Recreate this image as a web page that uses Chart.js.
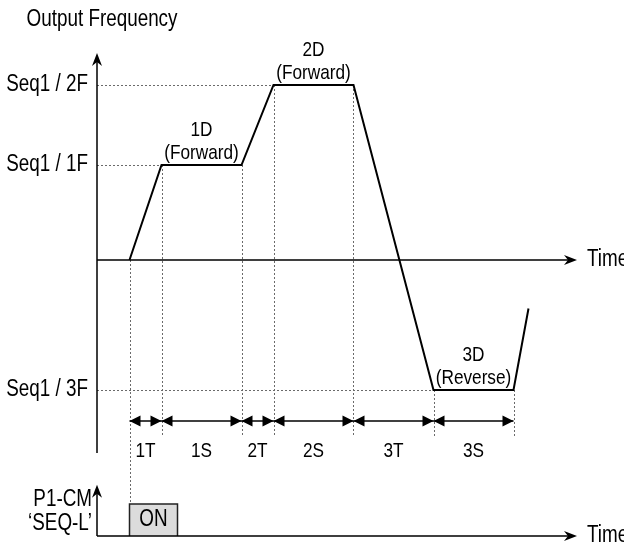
<!DOCTYPE html>
<html>
<head>
<meta charset="utf-8">
<script src="https://cdn.jsdelivr.net/npm/chart.js@4/dist/chart.umd.min.js"></script>
<style>
  html, body { margin: 0; padding: 0; background: #fff; }
  canvas { display: block; }
</style>
</head>
<body>
<canvas id="seqChart" width="624" height="545"></canvas>
<script>
// sequence steps (time in s, frequency in Hz)
const stepNames = ['1T', '1S', '2T', '2S', '3T', '3S'];
const stepTimes = [0, 3.2, 11.2, 14.4, 22.4, 30.4, 38.4];
const profileT = [0, 3.2, 11.2, 14.4, 22.4, 30.4, 38.4, 39.9];
const profileF = [0, 19, 19, 35, 35, -26, -26, -9.7];
const freqTicks = [35, 19, -26];
const freqTickLabels = ['Seq1 / 2F', 'Seq1 / 1F', 'Seq1 / 3F'];
const runLabels = [['1D', '(Forward)'], ['2D', '(Forward)'], ['3D', '(Reverse)']]; // over 1S, 2S, 3S
const pulseT = [0, 0, 4.8, 4.8];
const pulseV = [0, 1, 1, 0];

const DIM_F = -32.2, GUIDE_END_F = -35.4, AXIS_END_F = -38.6;
const FONT = '"Liberation Sans", Arial, sans-serif';

function txt(ctx, s, x, y, size, align) {
  ctx.save();
  ctx.translate(x, y);
  ctx.scale(0.82, 1); // narrow face
  ctx.font = size + 'px ' + FONT;
  ctx.fillStyle = '#000';
  ctx.textAlign = align || 'center';
  ctx.textBaseline = 'middle';
  ctx.fillText(s, 0, 0);
  ctx.restore();
}

function axisHead(ctx, x, y, dir) {
  ctx.beginPath();
  if (dir === 'up') {
    ctx.moveTo(x, y); ctx.lineTo(x - 5, y + 13); ctx.lineTo(x, y + 9); ctx.lineTo(x + 5, y + 13);
  } else {
    ctx.moveTo(x, y); ctx.lineTo(x - 13, y - 5); ctx.lineTo(x - 9, y); ctx.lineTo(x - 13, y + 5);
  }
  ctx.closePath();
  ctx.fill();
}

function dimHead(ctx, x, y, d) {
  ctx.beginPath();
  ctx.moveTo(x, y); ctx.lineTo(x + d * 11, y - 5.5); ctx.lineTo(x + d * 11, y + 5.5);
  ctx.closePath();
  ctx.fill();
}

const sketch = {
  id: 'sketch',
  beforeDatasetsDraw(chart) {
    const { ctx, scales: { x, y, ySig } } = chart;
    ctx.save();
    ctx.strokeStyle = '#6a6a6a';
    ctx.lineWidth = 1;
    ctx.setLineDash([2, 2]);
    ctx.beginPath();
    // horizontal guides from the axis to where the level is reached
    freqTicks.forEach(f => {
      const i = profileF.indexOf(f);
      const py = Math.round(y.getPixelForValue(f)) + 0.5;
      ctx.moveTo(x.left, py);
      ctx.lineTo(x.getPixelForValue(profileT[i]), py);
    });
    // vertical guides at every step boundary
    stepTimes.forEach((t, i) => {
      const px = Math.round(x.getPixelForValue(t)) + 0.5;
      ctx.moveTo(px, y.getPixelForValue(profileF[i]));
      ctx.lineTo(px, i === 0 ? ySig.getPixelForValue(pulseV[1]) : y.getPixelForValue(GUIDE_END_F));
    });
    ctx.stroke();
    ctx.restore();
  },
  afterDatasetsDraw(chart) {
    const { ctx, chartArea: a, scales: { x, y, ySig } } = chart;
    ctx.save();
    ctx.fillStyle = '#000';
    ctx.strokeStyle = '#000';
    ctx.lineWidth = 1.5;

    // frequency axis and time axis
    const x0 = x.getPixelForValue(x.min);
    const y0 = y.getPixelForValue(0);
    ctx.beginPath();
    ctx.moveTo(x0, y.getPixelForValue(AXIS_END_F)); ctx.lineTo(x0, a.top + 6);
    ctx.moveTo(x0, y0); ctx.lineTo(a.right - 6, y0);
    ctx.stroke();
    axisHead(ctx, x0, a.top, 'up');
    axisHead(ctx, a.right, y0, 'right');

    // signal axes
    const s0 = ySig.getPixelForValue(0);
    ctx.beginPath();
    ctx.moveTo(x0, s0); ctx.lineTo(x0, ySig.getPixelForValue(1.6) + 6);
    ctx.moveTo(x0, s0); ctx.lineTo(a.right - 6, s0);
    ctx.stroke();
    axisHead(ctx, x0, ySig.getPixelForValue(1.6), 'up');
    axisHead(ctx, a.right, s0, 'right');

    // dimension row
    const dy = y.getPixelForValue(DIM_F);
    ctx.beginPath();
    ctx.moveTo(x.getPixelForValue(stepTimes[0]), dy);
    ctx.lineTo(x.getPixelForValue(stepTimes[stepTimes.length - 1]), dy);
    ctx.stroke();
    for (let i = 0; i < stepNames.length; i++) {
      const pa = x.getPixelForValue(stepTimes[i]);
      const pb = x.getPixelForValue(stepTimes[i + 1]);
      dimHead(ctx, pa, dy, 1);
      dimHead(ctx, pb, dy, -1);
      txt(ctx, stepNames[i], (pa + pb) / 2, dy + 30, 21);
    }

    // texts
    txt(ctx, 'Output Frequency', x0 + 5, a.top - 33, 23);
    freqTicks.forEach((f, i) => txt(ctx, freqTickLabels[i], x0 - 9, y.getPixelForValue(f), 23, 'right'));
    runLabels.forEach((lab, k) => {
      const i = 1 + 2 * k;
      const cx = (x.getPixelForValue(stepTimes[i]) + x.getPixelForValue(stepTimes[i + 1])) / 2;
      const ly = y.getPixelForValue(profileF[i + 1]);
      txt(ctx, lab[0], cx, ly - 35, 21);
      txt(ctx, lab[1], cx, ly - 12, 21);
    });
    txt(ctx, 'Time', a.right + 10, y0, 23, 'left');
    txt(ctx, 'Time', a.right + 10, s0, 23, 'left');
    txt(ctx, 'P1-CM', x0 - 5, s0 - 36, 23, 'right');
    txt(ctx, '\u2018SEQ-L\u2019', x0 - 5, s0 - 12, 23, 'right');
    txt(ctx, 'ON', (x.getPixelForValue(pulseT[0]) + x.getPixelForValue(pulseT[2])) / 2, ySig.getPixelForValue(0.5), 23);
    ctx.restore();
  }
};

new Chart(document.getElementById('seqChart'), {
  type: 'line',
  data: {
    datasets: [
      {
        label: 'Output frequency',
        data: profileT.map((t, i) => ({ x: t, y: profileF[i] })),
        borderColor: '#000',
        borderWidth: 2,
        pointRadius: 0,
        tension: 0,
        yAxisID: 'y'
      },
      {
        label: 'SEQ-L',
        data: pulseT.map((t, i) => ({ x: t, y: pulseV[i] })),
        borderColor: '#222',
        borderWidth: 1.5,
        backgroundColor: '#dcdcdc',
        fill: 'origin',
        pointRadius: 0,
        tension: 0,
        yAxisID: 'ySig'
      }
    ]
  },
  options: {
    responsive: false,
    animation: false,
    layout: { padding: { left: 97, right: 47, top: 53, bottom: 9 } },
    plugins: { legend: { display: false }, tooltip: { enabled: false } },
    scales: {
      x: { type: 'linear', min: -3.25, max: 44.75, display: false },
      y: { type: 'linear', min: -55.2, max: 41.4, display: false },
      ySig: { type: 'linear', position: 'left', min: 0, max: 15.09, display: false }
    }
  },
  plugins: [sketch]
});
</script>
</body>
</html>
